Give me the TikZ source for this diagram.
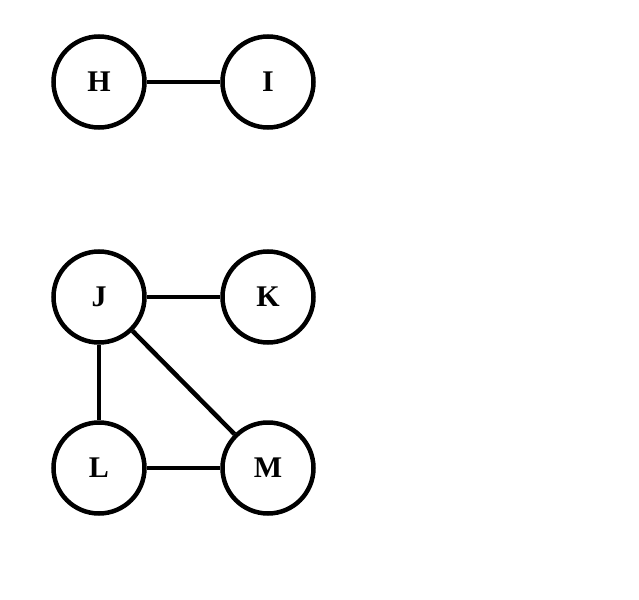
\documentclass[tikz,border=0pt]{standalone}
\usepackage{fontspec}
\setmainfont{Liberation Serif}
\begin{document}
\begin{tikzpicture}[x=1pt,y=-1pt,
  vtx/.style={circle,draw,line width=4.5pt,minimum size=91pt,inner sep=0pt,font=\fontsize{30}{30}\selectfont\bfseries},
  edge/.style={line width=4.5pt}]
\useasboundingbox (0,0) rectangle (639,599);
\node[vtx] (H) at (99,82) {H};
\node[vtx] (I) at (268,82) {I};
\node[vtx] (J) at (99,297) {J};
\node[vtx] (K) at (268,297) {K};
\node[vtx] (L) at (99,468) {L};
\node[vtx] (M) at (268,468) {M};
\draw[edge] (H) -- (I);
\draw[edge] (J) -- (K);
\draw[edge] (J) -- (L);
\draw[edge] (J) -- (M);
\draw[edge] (L) -- (M);
\end{tikzpicture}
\end{document}
